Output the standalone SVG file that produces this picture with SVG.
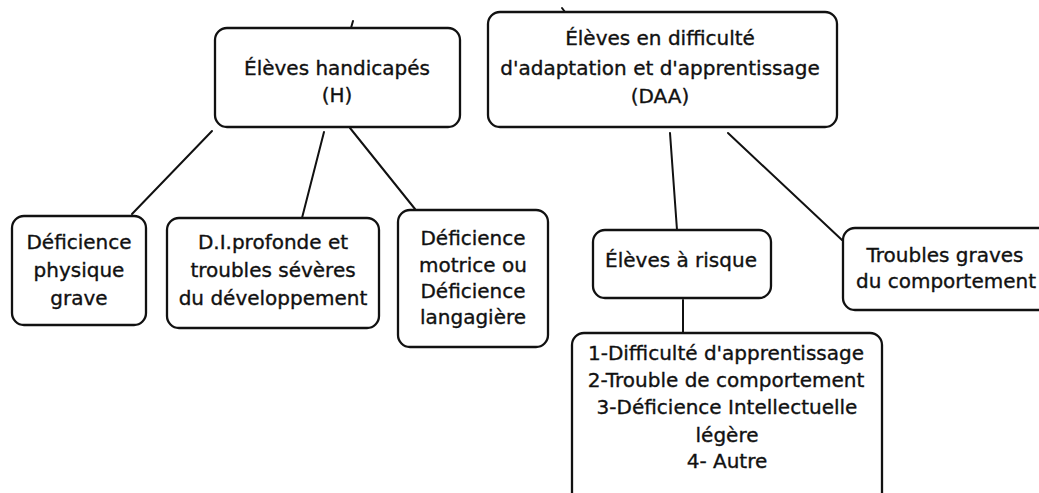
<svg xmlns="http://www.w3.org/2000/svg" width="1039" height="493" viewBox="0 0 1039 493">
  <style>
    .box { fill: #ffffff; stroke: #111111; stroke-width: 2.3; }
    .lbl { font-family: "DejaVu Sans", "Liberation Sans", sans-serif; font-size: 20px; fill: #111111; stroke: #111111; stroke-width: 0.35; text-anchor: middle; }
    .edge { stroke: #111111; stroke-width: 2; fill: none; stroke-linecap: round; }
  </style>
  <rect width="1039" height="493" fill="#ffffff"/>

  <!-- connectors -->
  <g id="connectors">
    <line class="edge" x1="212" y1="131" x2="132" y2="214"/>
    <line class="edge" x1="324" y1="132" x2="302" y2="218"/>
    <line class="edge" x1="350" y1="128" x2="415" y2="209"/>
    <line class="edge" x1="670" y1="133" x2="677" y2="230"/>
    <line class="edge" x1="728" y1="133" x2="842" y2="240"/>
    <line class="edge" x1="683" y1="300" x2="683" y2="333"/>
    <!-- short stubs above the top boxes -->
    <path class="edge" d="M351 28 L353 21"/>
    <path class="edge" d="M562 8 L565 12"/>
  </g>

  <g id="node-h">
    <rect class="box" x="215" y="28" width="245" height="99" rx="12"/>
    <text class="lbl" x="337" y="75">Élèves handicapés</text>
    <text class="lbl" x="337" y="102">(H)</text>
  </g>

  <g id="node-daa">
    <rect class="box" x="488" y="12" width="349" height="115" rx="12"/>
    <text class="lbl" x="660" y="45">Élèves en difficulté</text>
    <text class="lbl" x="660" y="75">d'adaptation et d'apprentissage</text>
    <text class="lbl" x="660" y="103">(DAA)</text>
  </g>

  <g id="node-physique">
    <rect class="box" x="12" y="216" width="134" height="109" rx="12"/>
    <text class="lbl" x="79" y="249">Déficience</text>
    <text class="lbl" x="79" y="277">physique</text>
    <text class="lbl" x="79" y="305">grave</text>
  </g>

  <g id="node-di">
    <rect class="box" x="167" y="218" width="212" height="110" rx="12"/>
    <text class="lbl" x="273" y="249">D.I.profonde et</text>
    <text class="lbl" x="273" y="277">troubles sévères</text>
    <text class="lbl" x="273" y="305">du développement</text>
  </g>

  <g id="node-motrice">
    <rect class="box" x="398" y="210" width="150" height="137" rx="12"/>
    <text class="lbl" x="473" y="245">Déficience</text>
    <text class="lbl" x="473" y="272">motrice ou</text>
    <text class="lbl" x="473" y="298">Déficience</text>
    <text class="lbl" x="473" y="324">langagière</text>
  </g>

  <g id="node-risque">
    <rect class="box" x="593" y="230" width="178" height="68" rx="12"/>
    <text class="lbl" x="681" y="267">Élèves à risque</text>
  </g>

  <g id="node-troubles">
    <rect class="box" x="843" y="228" width="220" height="82" rx="12"/>
    <text class="lbl" x="945" y="262">Troubles graves</text>
    <text class="lbl" x="946" y="288">du comportement</text>
  </g>

  <g id="node-liste">
    <rect class="box" x="572" y="333" width="310" height="180" rx="12"/>
    <text class="lbl" x="726" y="360">1-Difficulté d'apprentissage</text>
    <text class="lbl" x="726" y="387">2-Trouble de comportement</text>
    <text class="lbl" x="727" y="414">3-Déficience Intellectuelle</text>
    <text class="lbl" x="727" y="442">légère</text>
    <text class="lbl" x="727" y="468">4- Autre</text>
  </g>
</svg>
